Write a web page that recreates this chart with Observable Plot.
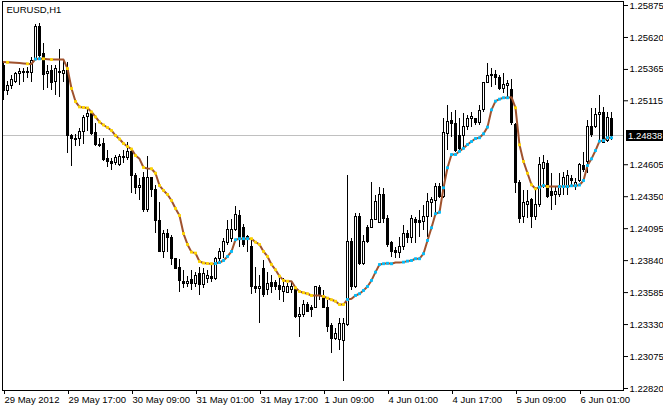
<!DOCTYPE html>
<html><head><meta charset="utf-8">
<script src="https://cdn.jsdelivr.net/npm/d3@7"></script>
<script src="https://cdn.jsdelivr.net/npm/@observablehq/plot@0.6"></script>
<style>html,body{margin:0;padding:0;background:#fff;} svg{display:block}</style>
</head><body><div id="chart"></div>
<script>
const symbolName = "EURUSD,H1";
const timeTickBars = [0, 16, 32, 48, 64, 80, 96, 112, 128, 144];
const timeTickLabels = ["29 May 2012", "29 May 17:00", "30 May 09:00", "31 May 01:00", "31 May 17:00", "1 Jun 09:00", "4 Jun 01:00", "4 Jun 17:00", "5 Jun 09:00", "6 Jun 01:00"];
const priceTicks = [1.25875, 1.25620, 1.25365, 1.25115, 1.24605, 1.24350, 1.24095, 1.23840, 1.23585, 1.23330, 1.23075, 1.22820];

const open = [
1.25396, 1.25197, 1.25229, 1.25261, 1.25325, 1.25333, 1.25333, 1.25333, 1.25452, 1.25707,
1.25492, 1.25325, 1.25349, 1.25261, 1.25333, 1.25325, 1.25372, 1.24838, 1.24814, 1.24814,
1.24870, 1.24982, 1.25006, 1.24862, 1.24766, 1.24774, 1.24647, 1.24623, 1.24615, 1.24599,
1.24655, 1.24655, 1.24710, 1.24519, 1.24423, 1.24503, 1.24240, 1.24503, 1.24407, 1.24160,
1.23905, 1.24056, 1.24024, 1.23849, 1.23785, 1.23666, 1.23650, 1.23682, 1.23650, 1.23737,
1.23642, 1.23690, 1.23706, 1.23690, 1.23849, 1.23905, 1.23977, 1.24009, 1.24088, 1.24192,
1.24104, 1.24032, 1.23945, 1.23626, 1.23610, 1.23777, 1.23602, 1.23658, 1.23658, 1.23634,
1.23586, 1.23578, 1.23602, 1.23610, 1.23387, 1.23410, 1.23490, 1.23466, 1.23466, 1.23618,
1.23546, 1.23466, 1.23315, 1.23211, 1.23203, 1.23195, 1.23323, 1.23985, 1.23626, 1.24184,
1.23817, 1.24104, 1.24104, 1.24168, 1.24144, 1.24360, 1.24176, 1.23977, 1.23913, 1.23897,
1.23945, 1.24056, 1.24017, 1.24168, 1.24160, 1.24152, 1.24184, 1.24296, 1.24312, 1.24431,
1.24344, 1.24854, 1.24950, 1.24926, 1.24838, 1.24838, 1.24902, 1.24966, 1.24966, 1.24934,
1.25038, 1.25253, 1.25309, 1.25317, 1.25293, 1.25213, 1.25229, 1.25205, 1.24918, 1.24463,
1.24184, 1.24280, 1.24320, 1.24184, 1.24280, 1.24567, 1.24607, 1.24384, 1.24360, 1.24360,
1.24431, 1.24423, 1.24495, 1.24431, 1.24479, 1.24591, 1.24623, 1.24902, 1.24902, 1.24998,
1.25014, 1.24798, 1.24966];

const high = [
1.25412, 1.25269, 1.25317, 1.25341, 1.25372, 1.25372, 1.25380, 1.25460, 1.25723, 1.25731,
1.25572, 1.25396, 1.25396, 1.25396, 1.25524, 1.25436, 1.25420, 1.24846, 1.24846, 1.24894,
1.24998, 1.25054, 1.25022, 1.24934, 1.24814, 1.24814, 1.24718, 1.24655, 1.24678, 1.24686,
1.24718, 1.24782, 1.24734, 1.24535, 1.24495, 1.24543, 1.24670, 1.24503, 1.24439, 1.24304,
1.24080, 1.24088, 1.24040, 1.23857, 1.23849, 1.23761, 1.23714, 1.23761, 1.23745, 1.23785,
1.23777, 1.23761, 1.23817, 1.23865, 1.23937, 1.24017, 1.24160, 1.24168, 1.24272, 1.24240,
1.24128, 1.24040, 1.24001, 1.23785, 1.23721, 1.23841, 1.23745, 1.23721, 1.23682, 1.23698,
1.23698, 1.23658, 1.23666, 1.23626, 1.23466, 1.23522, 1.23506, 1.23482, 1.23634, 1.23642,
1.23602, 1.23522, 1.23339, 1.23299, 1.23379, 1.23379, 1.24519, 1.24017, 1.24216, 1.24216,
1.24040, 1.24120, 1.24463, 1.24360, 1.24423, 1.24416, 1.24200, 1.23993, 1.23945, 1.24024,
1.24120, 1.24080, 1.24200, 1.24184, 1.24240, 1.24280, 1.24376, 1.24344, 1.24455, 1.24455,
1.24974, 1.25077, 1.25022, 1.25038, 1.24974, 1.25014, 1.24998, 1.25022, 1.24974, 1.25077,
1.25261, 1.25412, 1.25372, 1.25357, 1.25317, 1.25333, 1.25277, 1.25285, 1.24934, 1.24479,
1.24400, 1.24400, 1.24336, 1.24423, 1.24663, 1.24678, 1.24639, 1.24535, 1.24431, 1.24535,
1.24543, 1.24559, 1.24519, 1.24495, 1.24615, 1.24702, 1.24958, 1.25054, 1.25054, 1.25157,
1.25062, 1.25022, 1.25022];

const low = [
1.25117, 1.25157, 1.25205, 1.25253, 1.25237, 1.25261, 1.25293, 1.25261, 1.25436, 1.25452,
1.25197, 1.25213, 1.25197, 1.25157, 1.25141, 1.25261, 1.24694, 1.24591, 1.24750, 1.24750,
1.24766, 1.24870, 1.24838, 1.24750, 1.24742, 1.24631, 1.24583, 1.24559, 1.24599, 1.24591,
1.24615, 1.24639, 1.24376, 1.24368, 1.24320, 1.24224, 1.24224, 1.24344, 1.24056, 1.23905,
1.23857, 1.23905, 1.23801, 1.23769, 1.23586, 1.23618, 1.23626, 1.23602, 1.23626, 1.23562,
1.23618, 1.23658, 1.23666, 1.23682, 1.23825, 1.23857, 1.23961, 1.23985, 1.24072, 1.23945,
1.23945, 1.23905, 1.23570, 1.23578, 1.23339, 1.23546, 1.23562, 1.23578, 1.23602, 1.23522,
1.23506, 1.23578, 1.23578, 1.23379, 1.23227, 1.23387, 1.23426, 1.23387, 1.23458, 1.23522,
1.23466, 1.23267, 1.23099, 1.23203, 1.23123, 1.22876, 1.23315, 1.23602, 1.23618, 1.23801,
1.23801, 1.23977, 1.24096, 1.24160, 1.24136, 1.24136, 1.23945, 1.23865, 1.23857, 1.23857,
1.23921, 1.23977, 1.23977, 1.23977, 1.24024, 1.24080, 1.24024, 1.24184, 1.24200, 1.24336,
1.24336, 1.24718, 1.24822, 1.24702, 1.24718, 1.24742, 1.24878, 1.24902, 1.24918, 1.24918,
1.25022, 1.25253, 1.25221, 1.25237, 1.25197, 1.25173, 1.25141, 1.24918, 1.24376, 1.24136,
1.24136, 1.24176, 1.24096, 1.24160, 1.24264, 1.24416, 1.24336, 1.24240, 1.24280, 1.24344,
1.24360, 1.24360, 1.24423, 1.24400, 1.24463, 1.24543, 1.24535, 1.24822, 1.24894, 1.24798,
1.24774, 1.24782, 1.24798];

const close = [
1.25197, 1.25229, 1.25277, 1.25325, 1.25341, 1.25341, 1.25341, 1.25436, 1.25707, 1.25476,
1.25317, 1.25341, 1.25253, 1.25365, 1.25341, 1.25349, 1.24838, 1.24814, 1.24806, 1.24870,
1.24974, 1.25006, 1.24854, 1.24766, 1.24758, 1.24639, 1.24623, 1.24607, 1.24655, 1.24670,
1.24670, 1.24710, 1.24519, 1.24423, 1.24439, 1.24240, 1.24503, 1.24407, 1.24160, 1.23905,
1.24056, 1.24024, 1.23849, 1.23777, 1.23674, 1.23650, 1.23666, 1.23650, 1.23721, 1.23642,
1.23737, 1.23714, 1.23690, 1.23849, 1.23905, 1.23985, 1.24088, 1.24088, 1.24200, 1.24017,
1.23961, 1.24009, 1.23626, 1.23610, 1.23626, 1.23562, 1.23650, 1.23626, 1.23626, 1.23602,
1.23626, 1.23626, 1.23626, 1.23387, 1.23410, 1.23490, 1.23434, 1.23450, 1.23626, 1.23562,
1.23466, 1.23307, 1.23211, 1.23251, 1.23331, 1.23331, 1.23985, 1.23626, 1.24184, 1.23817,
1.23985, 1.23985, 1.24168, 1.24304, 1.24360, 1.24176, 1.23961, 1.23905, 1.23897, 1.23945,
1.24056, 1.24017, 1.24176, 1.24144, 1.24144, 1.24184, 1.24304, 1.24320, 1.24431, 1.24344,
1.24862, 1.24942, 1.24926, 1.24718, 1.24734, 1.24902, 1.24966, 1.24982, 1.24934, 1.25030,
1.25253, 1.25309, 1.25317, 1.25293, 1.25213, 1.25237, 1.25245, 1.24934, 1.24463, 1.24176,
1.24296, 1.24304, 1.24184, 1.24280, 1.24599, 1.24615, 1.24344, 1.24352, 1.24384, 1.24431,
1.24503, 1.24519, 1.24479, 1.24463, 1.24599, 1.24559, 1.24902, 1.24846, 1.24998, 1.25014,
1.24782, 1.24974, 1.24838];

const ma = [
1.25424, 1.25422, 1.25420, 1.25418, 1.25416, 1.25413, 1.25410, 1.25409, 1.25448, 1.25450,
1.25450, 1.25447, 1.25444, 1.25444, 1.25444, 1.25444, 1.25372, 1.25213, 1.25109, 1.25066,
1.25062, 1.25058, 1.25026, 1.24986, 1.24946, 1.24922, 1.24902, 1.24878, 1.24838, 1.24810,
1.24774, 1.24750, 1.24730, 1.24678, 1.24652, 1.24583, 1.24575, 1.24573, 1.24537, 1.24439,
1.24400, 1.24368, 1.24320, 1.24256, 1.24200, 1.24056, 1.23969, 1.23908, 1.23900, 1.23833,
1.23821, 1.23817, 1.23815, 1.23817, 1.23825, 1.23841, 1.23873, 1.23913, 1.24007, 1.24015,
1.24015, 1.24015, 1.24015, 1.23987, 1.23969, 1.23913, 1.23873, 1.23809, 1.23767, 1.23716,
1.23682, 1.23676, 1.23676, 1.23623, 1.23594, 1.23584, 1.23576, 1.23562, 1.23562, 1.23562,
1.23554, 1.23541, 1.23528, 1.23516, 1.23490, 1.23490, 1.23530, 1.23536, 1.23562, 1.23576,
1.23602, 1.23634, 1.23682, 1.23748, 1.23809, 1.23815, 1.23819, 1.23815, 1.23825, 1.23825,
1.23828, 1.23836, 1.23841, 1.23855, 1.23855, 1.23895, 1.24001, 1.24102, 1.24214, 1.24226,
1.24421, 1.24581, 1.24686, 1.24686, 1.24712, 1.24736, 1.24766, 1.24790, 1.24814, 1.24820,
1.24852, 1.24905, 1.25043, 1.25112, 1.25128, 1.25139, 1.25139, 1.25144, 1.25059, 1.24764,
1.24631, 1.24537, 1.24445, 1.24413, 1.24426, 1.24439, 1.24431, 1.24431, 1.24431, 1.24431,
1.24431, 1.24431, 1.24437, 1.24437, 1.24443, 1.24479, 1.24599, 1.24652, 1.24718, 1.24793,
1.24798, 1.24820, 1.24820];

// marker per bar: d = falling (gold), u = rising (blue), . = none
const maDir = [".d....d.uud.d...", "dddddd", "dddddd", "dddddd", ".d.", "dddddddd", "dddddddd",
  "uuuuuuuuu", "ddddd", "ddddd", ".", "ddddd", "..", "dddddd", "u.", "uuuuu", "uuuuu", "..",
  "uuuuuuuuu", "uuuuuuuuu", "uuuuuuuuu", ".", "dddddd", "uud..", "uuuuuuu", "uuuuuuu"].join("").split("");

const bars = open.map((o, i) => ({i, o, h: high[i], l: low[i], c: close[i], bull: close[i] >= o}));
const maPts = ma.map((v, i) => ({i, v, dir: maDir[i]}));
const last = close[close.length - 1];
const labelOf = new Map(timeTickBars.map((b, j) => [b, timeTickLabels[j]]));

const chart = Plot.plot({
  width: 663, height: 409,
  marginTop: 1, marginRight: 40, marginBottom: 19, marginLeft: 2,
  style: {fontFamily: "'Liberation Sans', Arial, sans-serif", fontSize: "9.5px", background: "#fff", color: "#000"},
  x: {type: "linear", domain: [-0.25, 155], axis: null},
  y: {domain: [1.22804, 1.25907], axis: null},
  marks: [
    Plot.ruleY([last], {stroke: "#c0c0c0", shapeRendering: "crispEdges"}),
    Plot.ruleX(bars, {x: "i", y1: "l", y2: "h", stroke: "#000", strokeWidth: 1, shapeRendering: "crispEdges"}),
    Plot.rect(bars, {x1: d => d.i - 0.25, x2: d => d.i + 0.25, y1: "o", y2: "c",
      fill: d => d.bull ? "#fff" : "#000", stroke: "#000", strokeWidth: 1, shapeRendering: "crispEdges"}),
    Plot.line(maPts, {x: "i", y: "v", stroke: "#a0522d", strokeWidth: 2}),
    Plot.dot(maPts.filter(d => d.dir === "d"), {x: "i", y: "v", symbol: "square", r: 1.6, fill: "#ffd700"}),
    Plot.dot(maPts.filter(d => d.dir === "u"), {x: "i", y: "v", symbol: "square", r: 1.6, fill: "#00bfff"}),
    Plot.frame({stroke: "#000", shapeRendering: "crispEdges"}),
    Plot.axisY(priceTicks, {anchor: "right", label: null, tickSize: 4, tickPadding: 2, tickFormat: d => d.toFixed(5)}),
    Plot.axisX(timeTickBars, {anchor: "bottom", label: null, tickSize: 4, tickPadding: 2, textAnchor: "start", dx: 1,
      tickFormat: d => labelOf.get(d)}),
    Plot.text([symbolName], {frameAnchor: "top-left", dx: 4, dy: 5, lineAnchor: "top", textAnchor: "start"})
  ]
});

const yy = Math.round(chart.scale("y").apply(last));
const svg = d3.select(chart);
svg.append("rect").attr("x", 626).attr("y", yy - 5).attr("width", 37).attr("height", 11).attr("fill", "#000");
svg.append("text").attr("x", 628).attr("y", yy + 4).attr("fill", "#fff").attr("text-anchor", "start").text(last.toFixed(5));
document.getElementById("chart").appendChild(chart);
</script>
</body></html>
